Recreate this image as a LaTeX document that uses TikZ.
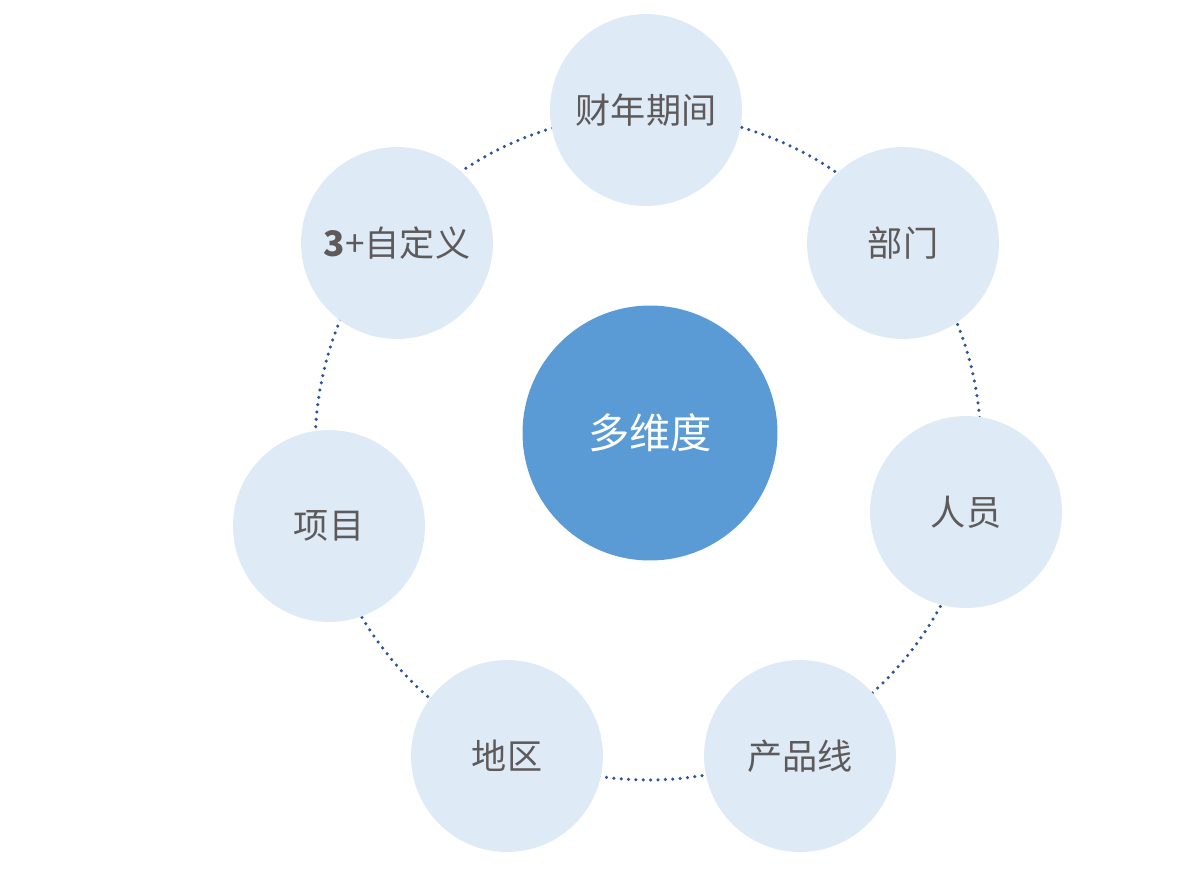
\documentclass[tikz,border=0pt]{standalone}
\usepackage{fontspec}
\setmainfont{Noto Sans CJK SC}
\usepackage{tikz}
\usepackage{xcolor}
\definecolor{ringblue}{RGB}{47,85,151}
\definecolor{lightfill}{RGB}{222,235,247}
\definecolor{hubfill}{RGB}{91,155,213}
\definecolor{labelgray}{RGB}{95,90,90}
\tikzstyle{dim} = [circle, fill=lightfill, minimum size=3.84cm, inner sep=0pt, text=labelgray, font=\fontsize{20}{24}\selectfont]
\tikzstyle{hub} = [circle, fill=hubfill, minimum size=5.1cm, inner sep=0pt, text=white, font=\fontsize{23.5}{28}\selectfont]
\tikzstyle{ring} = [ringblue, line width=2pt, line cap=round, dash pattern=on 0pt off 4.2pt]

\begin{document}
\begin{tikzpicture}[x=0.02cm, y=-0.02cm]
		\useasboundingbox (0,0) rectangle (1200,870);
		\coordinate (c) at (648,447);
		\draw[ring] (c) circle (6.66cm);

		\node[hub] (hub) at (650,433) {多维度};

		\node[dim] (fy) at (646,110) {财年期间};
		\node[dim] (dept) at (903,243) {部门};
		\node[dim] (staff) at (966,512) {人员};
		\node[dim] (prod) at (800,756) {产品线};
		\node[dim] (region) at (507,756) {地区};
		\node[dim] (proj) at (329,526) {项目};
		\node[dim] (custom) at (397,243) {\textbf{3}+自定义};
	\end{tikzpicture}
\end{document}
